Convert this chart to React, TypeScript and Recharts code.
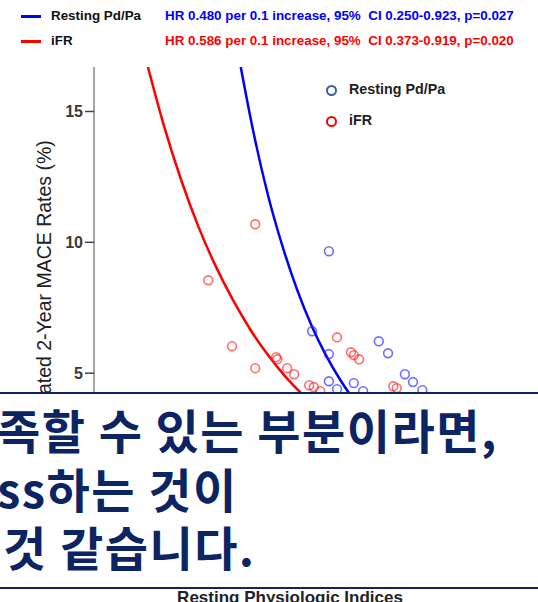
import React from 'react';
import { ComposedChart, Scatter, Line, XAxis, YAxis, Label } from 'recharts';

// observed patients: x = index value, y = estimated 2-year MACE rate (%)
const pdpaPoints = [
  { x: 0.805, y: 9.66 },
  { x: 0.776, y: 6.6 },
  { x: 0.805, y: 5.73 },
  { x: 0.891, y: 6.22 },
  { x: 0.907, y: 5.76 },
  { x: 0.805, y: 4.69 },
  { x: 0.819, y: 4.39 },
  { x: 0.848, y: 4.62 },
  { x: 0.864, y: 4.31 },
  { x: 0.936, y: 4.96 },
  { x: 0.95, y: 4.66 },
  { x: 0.966, y: 4.35 },
];

const ifrPoints = [
  { x: 0.678, y: 10.69 },
  { x: 0.597, y: 8.55 },
  { x: 0.638, y: 6.03 },
  { x: 0.678, y: 5.19 },
  { x: 0.714, y: 5.61 },
  { x: 0.716, y: 5.53 },
  { x: 0.733, y: 5.19 },
  { x: 0.745, y: 4.96 },
  { x: 0.771, y: 4.54 },
  { x: 0.779, y: 4.47 },
  { x: 0.79, y: 4.31 },
  { x: 0.819, y: 6.37 },
  { x: 0.843, y: 5.8 },
  { x: 0.848, y: 5.69 },
  { x: 0.857, y: 5.53 },
  { x: 0.916, y: 4.5 },
  { x: 0.922, y: 4.43 },
];

// fitted risk curves
const pdpaCurve = [
  { x: 0.653, y: 16.7 },
  { x: 0.675, y: 14.2 },
  { x: 0.7, y: 11.8 },
  { x: 0.725, y: 9.85 },
  { x: 0.75, y: 8.2 },
  { x: 0.775, y: 6.82 },
  { x: 0.8, y: 5.68 },
  { x: 0.825, y: 4.73 },
  { x: 0.85, y: 3.93 },
  { x: 0.875, y: 3.3 },
];

const ifrCurve = [
  { x: 0.493, y: 16.7 },
  { x: 0.52, y: 14.5 },
  { x: 0.55, y: 12.4 },
  { x: 0.58, y: 10.6 },
  { x: 0.61, y: 9.08 },
  { x: 0.64, y: 7.78 },
  { x: 0.67, y: 6.65 },
  { x: 0.7, y: 5.69 },
  { x: 0.73, y: 4.87 },
  { x: 0.76, y: 4.17 },
  { x: 0.79, y: 3.56 },
];

const yTicks = [5, 10, 15];
const xTicks = [0.4, 0.5, 0.6, 0.7, 0.8, 0.9, 1.0, 1.1];

const seriesNames = ['Resting Pd/Pa', 'iFR'];
const lineColors = ['#0000ff', '#ff0000'];
const ringColors = ['#3e5f98', '#ff0000'];
const hrTexts = [
  'HR 0.480 per 0.1 increase, 95%  CI 0.250-0.923, p=0.027',
  'HR 0.586 per 0.1 increase, 95%  CI 0.373-0.919, p=0.020',
];

const noteLines = ['족할 수 있는 부분이라면,', 'ss하는 것이', '것 같습니다.'];
const noteLeft = [-3, -3, 3];

const FONT = '"Liberation Sans", Arial, sans-serif';
const NAVY = '#0d2463';

const ring = (color: string) => (props: any) => (
  <circle
    cx={props.cx}
    cy={props.cy}
    r={4.4}
    fill="none"
    stroke={color}
    strokeWidth={1.6}
    strokeOpacity={0.65}
  />
);

const App: React.FC = () => {
  return (
    <div
      style={{
        position: 'fixed',
        left: 0,
        top: 0,
        width: 538,
        height: 602,
        overflow: 'hidden',
        background: '#fff',
        fontFamily: FONT,
      }}
    >
      {/* hazard ratio legend */}
      {seriesNames.map((name, i) => (
        <div
          key={name}
          style={{
            position: 'absolute',
            left: 0,
            top: 6 + i * 25,
            height: 20,
            width: 538,
            fontSize: 13.4,
            fontWeight: 700,
            lineHeight: '20px',
            whiteSpace: 'pre',
          }}
        >
          <div style={{ position: 'absolute', left: 21, top: 9, width: 20, height: 3, background: lineColors[i] }} />
          <span style={{ position: 'absolute', left: 51, color: '#111' }}>{name}</span>
          <span style={{ position: 'absolute', left: 165, color: lineColors[i] }}>{hrTexts[i]}</span>
        </div>
      ))}

      <ComposedChart width={538} height={602} margin={{ top: 67, right: 38, bottom: 8, left: 34 }}>
        <XAxis
          type="number"
          dataKey="x"
          domain={[0.4, 1.1]}
          ticks={xTicks}
          height={90}
          axisLine={{ stroke: '#a6a6a6', strokeWidth: 2 }}
          tickLine={false}
          tick={false}
        >
          <Label
            content={({ viewBox }: any) => (
              <text
                x={viewBox.x + viewBox.width / 2 - 7}
                y={viewBox.y + viewBox.height + 9}
                textAnchor="middle"
                fontSize={17}
                fontWeight={700}
                fill="#222"
                fontFamily={FONT}
              >
                Resting Physiologic Indices
              </text>
            )}
          />
        </XAxis>
        <YAxis
          type="number"
          dataKey="y"
          domain={[0, 16.7]}
          allowDataOverflow
          ticks={yTicks}
          width={60}
          tickSize={9}
          axisLine={{ stroke: '#a6a6a6', strokeWidth: 2 }}
          tickLine={{ stroke: '#444', strokeWidth: 1.5 }}
          tick={{ fill: '#3a3a3a', fontSize: 16, fontWeight: 700, fontFamily: FONT }}
        >
          <Label
            content={({ viewBox }: any) => {
              const cx = viewBox.x + 10;
              const cy = viewBox.y + viewBox.height / 2 + 6;
              return (
                <text
                  x={cx}
                  y={cy}
                  transform={`rotate(-90 ${cx} ${cy})`}
                  textAnchor="middle"
                  dominantBaseline="central"
                  fontSize={19.5}
                  fill="#222"
                  fontFamily={FONT}
                >
                  Estimated 2-Year MACE Rates (%)
                </text>
              );
            }}
          />
        </YAxis>
        <Line
          data={ifrCurve}
          dataKey="y"
          type="monotone"
          stroke={lineColors[1]}
          strokeWidth={2.5}
          dot={false}
          isAnimationActive={false}
        />
        <Line
          data={pdpaCurve}
          dataKey="y"
          type="monotone"
          stroke={lineColors[0]}
          strokeWidth={2.5}
          dot={false}
          isAnimationActive={false}
        />
        <Scatter data={ifrPoints} dataKey="y" shape={ring('#ff2020')} isAnimationActive={false} />
        <Scatter data={pdpaPoints} dataKey="y" shape={ring('#2020ff')} isAnimationActive={false} />
      </ComposedChart>

      {/* marker legend inside the plot */}
      {seriesNames.map((name, i) => (
        <div
          key={'m' + name}
          style={{ position: 'absolute', left: 324, top: 80 + i * 31, height: 18, width: 160 }}
        >
          <div
            style={{
              position: 'absolute',
              left: 2,
              top: 5,
              width: 7,
              height: 7,
              borderRadius: '50%',
              border: `2.5px solid ${ringColors[i]}`,
              boxSizing: 'content-box',
            }}
          />
          <span
            style={{
              position: 'absolute',
              left: 25,
              top: 0,
              fontSize: 14.3,
              fontWeight: 700,
              lineHeight: '18px',
              color: '#222',
            }}
          >
            {name}
          </span>
        </div>
      ))}

      {/* caption box over the lower part of the plot */}
      <div
        style={{
          position: 'absolute',
          left: 0,
          top: 392,
          width: 538,
          height: 193,
          background: '#fff',
          borderTop: `2px solid ${NAVY}`,
          borderBottom: `2px solid ${NAVY}`,
        }}
      >
        {noteLines.map((t, i) => (
          <div
            key={t}
            style={{
              position: 'absolute',
              left: noteLeft[i],
              top: 6 + i * 58.5,
              whiteSpace: 'pre',
              fontFamily: '"Noto Sans CJK KR", sans-serif',
              fontSize: 47,
              letterSpacing: 1.5,
              fontWeight: 700,
              lineHeight: '58px',
              color: NAVY,
            }}
          >
            {t}
          </div>
        ))}
      </div>
    </div>
  );
};

export default App;
